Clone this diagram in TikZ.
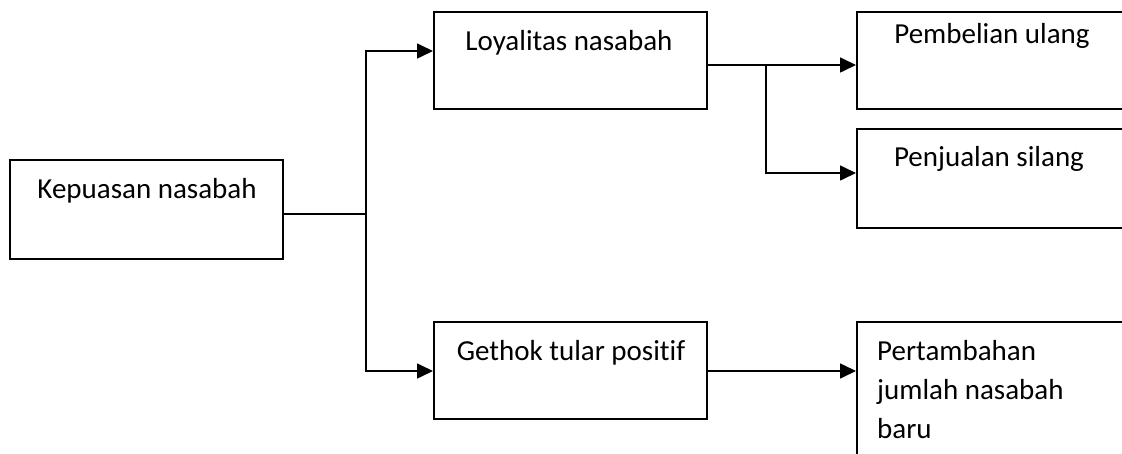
\documentclass[tikz,border=0pt]{standalone}
\usepackage{fontspec}
\setmainfont{Carlito}[Ligatures=NoCommon]
\usetikzlibrary{arrows.meta}
\begin{document}
\begin{tikzpicture}[x=1pt,y=-1pt,
  box/.style={draw,line width=1.6pt,rectangle,inner sep=0pt,anchor=north west},
  txt/.style={inner sep=0pt,font=\fontsize{29}{39}\selectfont},
  conn/.style={line width=1.6pt},
  arr/.style={conn,-{Triangle[length=16pt,width=15pt]}}]
\useasboundingbox (0,0) rectangle (1122,453);
% boxes
\node[box,minimum width=273pt,minimum height=99pt] (K) at (9,159) {};
\node[box,minimum width=273pt,minimum height=97pt] (L) at (433,11) {};
\node[box,minimum width=273pt,minimum height=97pt] (G) at (433,321) {};
\node[box,minimum width=300pt,minimum height=97pt] (B) at (856,11) {};
\node[box,minimum width=300pt,minimum height=99pt] (S) at (856,128) {};
\node[box,minimum width=300pt,minimum height=160pt] (P) at (856,321) {};
% texts
\node[txt,anchor=base] (Kt) at (147,198) {Kepuasan nasabah};
\node[txt,anchor=base] (Lt) at (569,50) {Loyalitas nasabah};
\node[txt,anchor=base] (Gt) at (571,360) {Gethok tular positif};
\node[txt,anchor=base] (Bt) at (992,43) {Pembelian ulang};
\node[txt,anchor=base] (St) at (989,166) {Penjualan silang};
\node[txt,anchor=north west,align=left] (Pt) at (877,340) {Pertambahan\\jumlah nasabah\\baru};
% connectors
\coordinate (J) at (366,214);
\coordinate (J2) at (766,65);
\draw[conn] (K.east |- J) -- (J);
\draw[arr] (J) |- (L.west |- 0,51);
\draw[arr] (J) |- (G.west |- 0,371);
\draw[arr] (L.east |- J2) -- (B.west |- J2);
\draw[arr] (J2) |- (S.west |- 0,173);
\draw[arr] (G.east |- 0,371) -- (P.west |- 0,371);
\end{tikzpicture}
\end{document}
